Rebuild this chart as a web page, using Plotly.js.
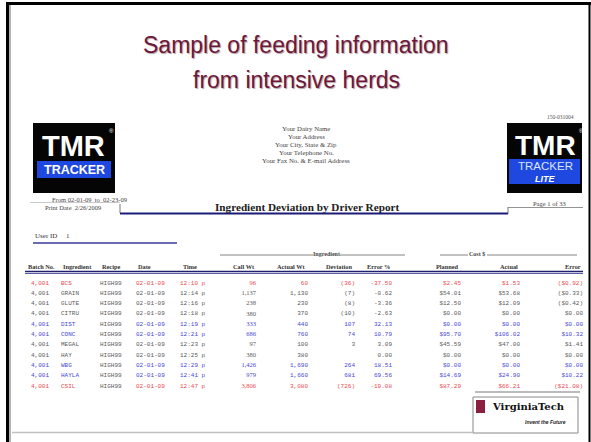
<!DOCTYPE html>
<html>
<head>
<meta charset="utf-8">
<script src="https://cdn.plot.ly/plotly-3.0.1.min.js"></script>
<style>html,body{margin:0;padding:0;background:#fff;}#chart{width:591px;height:442px;}</style>
</head>
<body>
<div id="chart"></div>
<script>
const batchNo      = [4001, 4001, 4001, 4001, 4001, 4001, 4001, 4001, 4001, 4001, 4001];
const ingredients  = ['BCS', 'GRAIN', 'GLUTE', 'CITRU', 'DIST', 'CONC', 'MEGAL', 'HAY', 'WBG', 'HAYLA', 'CSIL'];
const recipes      = ['HIGH99', 'HIGH99', 'HIGH99', 'HIGH99', 'HIGH99', 'HIGH99', 'HIGH99', 'HIGH99', 'HIGH99', 'HIGH99', 'HIGH99'];
const dates        = ['02-01-09', '02-01-09', '02-01-09', '02-01-09', '02-01-09', '02-01-09', '02-01-09', '02-01-09', '02-01-09', '02-01-09', '02-01-09'];
const times        = ['12:10 p', '12:14 p', '12:16 p', '12:18 p', '12:19 p', '12:21 p', '12:23 p', '12:25 p', '12:29 p', '12:41 p', '12:47 p'];
const callWt       = [96, 1137, 238, 380, 333, 686, 97, 380, 1426, 979, 3806];
const actualWt     = [60, 1130, 230, 370, 440, 760, 100, 380, 1690, 1660, 3080];
const deviation    = [-36, -7, -8, -10, 107, 74, 3, 0, 264, 681, -726];
const errorPct     = [-37.50, -0.62, -3.36, -2.63, 32.13, 10.79, 3.09, 0.00, 18.51, 69.56, -19.08];
const plannedCost  = [2.45, 54.01, 12.50, 0.00, 0.00, 95.70, 45.59, 0.00, 0.00, 14.69, 87.29];
const actualCost   = [1.53, 53.68, 12.09, 0.00, 0.00, 106.02, 47.00, 0.00, 0.00, 24.90, 66.21];
const costError    = [-0.92, -0.33, -0.42, 0.00, 0.00, 10.32, 1.41, 0.00, 0.00, 10.22, -21.08];

const headerLabels = ['Batch No.', 'Ingredient', 'Recipe', 'Date', 'Time', 'Call Wt', 'Actual Wt', 'Deviation', 'Error %', 'Planned', 'Actual', 'Error'];
const groupLabels  = ['Ingredient', 'Cost $'];
const addressLines = ['Your Dairy Name', 'Your Address', 'Your City, State & Zip', 'Your Telephone No.', 'Your Fax No. & E-mail Address'];

// ---------------- STYLE / LAYOUT ----------------
const RED = '#ec4a50', BLUE = '#4848d6', GRAY = '#5a5a5a';
const rowColor = errorPct.map(e => e > 10 ? BLUE : (e < -10 ? RED : GRAY));
const MONO = 'Liberation Mono, Courier New, monospace';
const SERIF = 'Liberation Serif, Times New Roman, serif';
const SANS = 'Liberation Sans, Arial, sans-serif';

const fmtInt = v => v.toLocaleString('en-US');
const fmtDev = v => v === 0 ? '' : (v < 0 ? '(' + Math.abs(v) + ')' : String(v));
const fmtPct = v => v.toFixed(2);
const fmtMoney = v => v < 0 ? '($' + Math.abs(v).toFixed(2) + ')' : '$' + v.toFixed(2);

const rowIdx = batchNo.map((_, i) => i);
// rows: first row at pixel 283, 10.3 px apart (row-index axis)
const rowTopPx = 283, rowGapPx = 10.3, H = 442;
const y2Top = -rowTopPx / rowGapPx, y2Bottom = y2Top + H / rowGapPx;

function col(x, texts, align, colors, font, size) {
  return {
    type: 'scatter', mode: 'text', xaxis: 'x', yaxis: 'y2',
    x: rowIdx.map(() => x), y: rowIdx, text: texts,
    textposition: align === 'right' ? 'middle left' : 'middle right',
    textfont: {family: font || MONO, size: size || 6, color: colors},
    hoverinfo: 'skip', cliponaxis: false, showlegend: false
  };
}
const grayAll = rowIdx.map(() => GRAY);
const traces = [
  col(49, batchNo.map(fmtInt), 'right', rowColor),
  col(61, ingredients, 'left', rowColor),
  col(100, recipes, 'left', grayAll),
  col(136, dates, 'left', rowColor),
  col(180, times, 'left', rowColor),
  col(256, callWt.map(fmtInt), 'right', rowColor, SERIF, 6.5),
  col(308, actualWt.map(fmtInt), 'right', rowColor),
  col(355, deviation.map(fmtDev), 'right', rowColor),
  col(392, errorPct.map(fmtPct), 'right', rowColor),
  col(461, plannedCost.map(fmtMoney), 'right', rowColor),
  col(520, actualCost.map(fmtMoney), 'right', rowColor),
  col(583, costError.map(fmtMoney), 'right', rowColor)
];

function ann(text, x, y, xanchor, font, extra) {
  return Object.assign({text: text, x: x, y: y, xref: 'x', yref: 'y', showarrow: false,
    xanchor: xanchor || 'center', yanchor: 'middle', font: font}, extra || {});
}
const annotations = [];
// Slide title
const titleFont = {family: SANS, size: 23, color: '#6e1839', shadow: '1px 1px 1px #b0a0a6'};
annotations.push(ann('Sample of feeding information', 296, 45, 'center', titleFont));
annotations.push(ann('from intensive herds', 296, 80, 'center', titleFont));
// report id
annotations.push(ann('150-031004', 560, 117, 'center', {family: SERIF, size: 5.5, color: '#555'}));
// address block
addressLines.forEach((t, i) => annotations.push(ann(t, 306, 128 + i * 8, 'center', {family: SERIF, size: 6.8, color: '#444'})));
// left logo
annotations.push(ann('TMR', 73, 146, 'center', {family: SANS, size: 29, color: '#fff', weight: 'bold'}));
annotations.push(ann('®', 111, 131, 'center', {family: SANS, size: 6, color: '#fff'}));
annotations.push(ann('TRACKER', 74, 170, 'center', {family: SANS, size: 12.5, color: '#fff', weight: 'bold'}));
// right logo
annotations.push(ann('TMR', 545, 145, 'center', {family: SANS, size: 28, color: '#fff', weight: 'bold'}));
annotations.push(ann('®', 581, 131, 'center', {family: SANS, size: 5, color: '#fff'}));
annotations.push(ann('TRACKER', 545, 166, 'center', {family: SANS, size: 11.5, color: '#d8e4ff'}));
annotations.push(ann('LITE', 545, 178.5, 'center', {family: SANS, size: 9, color: '#fff', style: 'italic', weight: 'bold'}));
// report header
annotations.push(ann('From 02-01-09  to  02-23-09', 50, 199, 'left', {family: SERIF, size: 6.5, color: '#444'}));
annotations.push(ann('Print Date  2/26/2009', 43, 207, 'left', {family: SERIF, size: 6.5, color: '#444'}));
annotations.push(ann('Ingredient Deviation by Driver Report', 307, 207, 'center', {family: SERIF, size: 11.2, color: '#222', weight: 'bold'}));
annotations.push(ann('Page 1 of 33', 549, 203, 'center', {family: SERIF, size: 6.5, color: '#444'}));
annotations.push(ann('User ID&nbsp;&nbsp;&nbsp;&nbsp;&nbsp;1', 33, 236, 'left', {family: SERIF, size: 7, color: '#333'}));
// group labels
annotations.push(ann(groupLabels[0], 326, 254, 'center', {family: SERIF, size: 6, color: '#444', weight: 'bold'}));
annotations.push(ann(groupLabels[1], 477, 254, 'center', {family: SERIF, size: 6, color: '#444', weight: 'bold'}));
// column headers
const hx = [26, 61, 100, 136, 181, 257, 308, 354, 392, 461, 520, 583];
const ha = ['left', 'left', 'left', 'left', 'left', 'right', 'right', 'right', 'right', 'right', 'right', 'right'];
headerLabels.forEach((t, i) => annotations.push(ann(t, hx[i], 266, ha[i], {family: SERIF, size: 6.3, color: '#333', weight: 'bold'})));
// Virginia Tech logo
annotations.push(ann('VirginiaTech', 528, 406, 'center', {family: 'DejaVu Serif, serif', size: 10, color: '#111', weight: 'bold'}));
annotations.push(ann('Invent the Future', 568, 422, 'right', {family: SANS, size: 5, color: '#222', style: 'italic', weight: 'bold'}));

const L = (x0, y0, x1, y1, color, width) => ({type: 'line', xref: 'x', yref: 'y', x0, y0, x1, y1, line: {color, width}});
const R = (x0, y0, x1, y1, fill, lineColor, lw) => ({type: 'rect', xref: 'x', yref: 'y', x0, y0, x1, y1, fillcolor: fill, line: {color: lineColor || fill, width: lw === undefined ? 0 : lw}, layer: 'below'});
const shapes = [
  // slide frame
  L(6, 3.5, 591, 3.5, '#000', 3),
  L(7.5, 2, 7.5, 442, '#000', 3),
  L(10, 5, 10, 442, '#9a9a9a', 1.5),
  L(589.5, 2, 589.5, 442, '#000', 2),
  // logos
  R(33, 123, 115, 193, '#050505'),
  R(37, 161, 111, 178, '#1f48e0'),
  R(507, 123, 582, 193, '#050505'),
  R(509, 159, 580, 184, '#1f48e0'),
  // report header lines
  L(30, 202.5, 120, 202.5, '#bbb', 0.8),
  L(120, 204, 120, 213, '#555', 0.8),
  L(120, 213.5, 508, 213.5, '#1c1c78', 2),
  L(508, 207, 508, 214, '#555', 0.8),
  L(508, 207.5, 583, 207.5, '#777', 0.8),
  L(33, 243, 177, 243, '#3a3a9a', 1.5),
  // group label rules
  L(220, 255, 313, 255, '#666', 0.8),
  L(340, 255, 405, 255, '#666', 0.8),
  L(440, 255, 468, 255, '#666', 0.8),
  L(487, 255, 577, 255, '#666', 0.8),
  // header underline (double)
  L(25, 271.5, 583, 271.5, '#20206e', 1.5),
  L(25, 273.5, 583, 273.5, '#5a5aa8', 1),
  // total rule + footer
  L(475, 392, 580, 392, '#777', 1),
  L(12, 432.5, 473, 432.5, '#c0c0c0', 1.5),
  R(473, 397, 578, 433, 'rgba(0,0,0,0)', '#888', 1),
  R(476, 400, 485, 413, '#8a1f3f')
];

const layout = {
  width: 591, height: 442,
  margin: {l: 0, r: 0, t: 0, b: 0, pad: 0},
  paper_bgcolor: '#fff', plot_bgcolor: '#fff',
  showlegend: false,
  xaxis: {range: [0, 591], visible: false, fixedrange: true},
  yaxis: {range: [442, 0], visible: false, fixedrange: true},
  yaxis2: {range: [y2Bottom, y2Top], overlaying: 'y', visible: false, fixedrange: true},
  annotations: annotations,
  shapes: shapes
};
Plotly.newPlot('chart', traces, layout, {staticPlot: true, displayModeBar: false});
</script>
</body>
</html>
